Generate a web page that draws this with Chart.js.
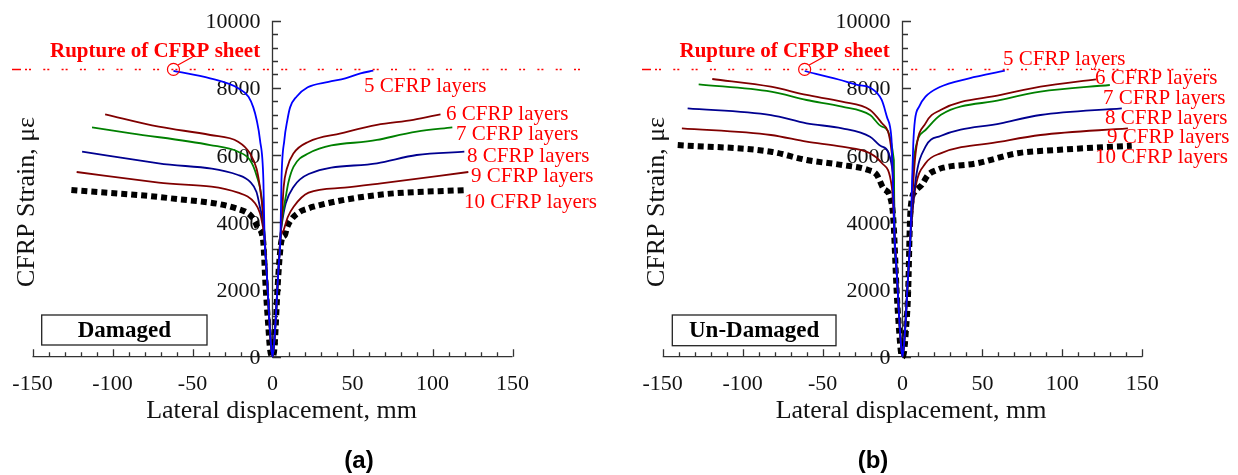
<!DOCTYPE html>
<html>
<head>
<meta charset="utf-8">
<script src="https://cdn.jsdelivr.net/npm/chart.js@4.4.1/dist/chart.umd.min.js"></script>
<style>
  html, body { margin: 0; padding: 0; background: #ffffff; }
  #wrap { position: relative; width: 1238px; height: 475px; overflow: hidden; }
  .panel { position: absolute; top: 0; width: 619px; height: 475px; }
</style>
</head>
<body>
<div id="wrap">
  <div class="panel" style="left:0"><canvas id="chartA" width="619" height="475"></canvas></div>
  <div class="panel" style="left:619px"><canvas id="chartB" width="619" height="475"></canvas></div>
</div>
<script>
// ---- axis ticks ----
const xTicks = [-150, -100, -50, 0, 50, 100, 150];
const yTicks = [0, 2000, 4000, 6000, 8000, 10000];
const xMinorStep = 10;
const yMinorStep = 400;

// ---- series names and rupture strain ----
const layerNames = ['5 CFRP layers', '6 CFRP layers', '7 CFRP layers', '8 CFRP layers', '9 CFRP layers', '10 CFRP layers'];
const ruptureStrain = 8550;

// ---- Damaged columns: [lateral displacement (mm), CFRP strain (microstrain)] ----
const dmg5 = [[-61.9, 8510], [-39, 8285], [-21.4, 7990], [-15, 7738], [-12, 7420], [-9.9, 7045], [-7.8, 6448], [-5.7, 5258], [-5, 3600], [-4, 2800], [-3, 2000], [-2, 1100], [-1, 400], [0, 0], [1, 400], [2, 1100], [3, 2000], [4, 2800], [5, 3600], [5.6, 5258], [7.4, 6448], [9.3, 7045], [11, 7420], [15, 7738], [22, 8018], [35, 8180], [45.5, 8285], [55, 8435], [63, 8512]];
const dmg6 = [[-104.6, 7214], [-71.1, 6845], [-38.9, 6598], [-21.5, 6399], [-14.1, 6053], [-10, 5600], [-7.9, 5060], [-6, 4300], [-5, 3600], [-4, 2800], [-3, 2000], [-2, 1100], [-1, 400], [0, 0], [1, 400], [2, 1100], [3, 2000], [4, 2800], [5, 3600], [6, 4300], [7, 5060], [9, 5600], [13.2, 6053], [22.6, 6399], [42.7, 6647], [65.3, 6900], [88, 7050], [105, 7214]];
const dmg7 = [[-112.8, 6826], [-88.4, 6647], [-38.9, 6300], [-21.5, 6101], [-14.1, 5853], [-10, 5400], [-6.6, 4663], [-5.5, 4000], [-5, 3600], [-4, 2800], [-3, 2000], [-2, 1100], [-1, 400], [0, 0], [1, 400], [2, 1100], [3, 2000], [4, 2800], [5, 3600], [6, 4100], [8.3, 4762], [10, 5200], [13.2, 5655], [22.6, 6053], [65.3, 6450], [90.1, 6696], [112.4, 6826]];
const dmg8 = [[-119, 6101], [-71.1, 5756], [-21.5, 5408], [-14.1, 5208], [-10, 4900], [-7.9, 4464], [-5.5, 3900], [-5, 3600], [-4, 2800], [-3, 2000], [-2, 1100], [-1, 400], [0, 0], [1, 400], [2, 1100], [3, 2000], [4, 2800], [5, 3600], [6, 4000], [8.3, 4565], [13.2, 5060], [22.6, 5437], [65.3, 5756], [90.1, 6003], [119.9, 6101]];
const dmg9 = [[-122.4, 5497], [-71.1, 5179], [-21.5, 4881], [-10.9, 4565], [-7.8, 4268], [-6.4, 3970], [-5.1, 3571], [-4, 2800], [-3, 2000], [-2, 1100], [-1, 400], [0, 0], [1, 400], [2, 1100], [3, 2000], [4, 2800], [5, 3500], [7, 3771], [9.5, 4150], [13.2, 4464], [22.6, 4881], [45, 5030], [67.8, 5160], [122.4, 5497]];
const dmg10 = [[-125.7, 4961], [-63.7, 4714], [-21.4, 4396], [-14, 4217], [-10.9, 4018], [-9.3, 3851], [-5.9, 3473], [-4.3, 2083], [-2.6, 893], [-1.6, 250], [0, 0], [1.2, 250], [2, 893], [3.2, 2083], [5.7, 3473], [7.8, 3622], [8.9, 3821], [12, 4098], [17.2, 4316], [21.4, 4396], [25.5, 4464], [65.3, 4812], [121, 4961]];

// ---- Un-Damaged columns ----
const und5 = [[-61.2, 8503], [-40, 8250], [-27.7, 8086], [-20, 8000], [-13, 7640], [-9.5, 7100], [-7.8, 6845], [-6.75, 6351], [-6, 5200], [-5, 3600], [-4, 2800], [-3, 2000], [-2, 1100], [-1, 400], [0, 0], [1, 400], [2, 1100], [3, 2000], [4, 2800], [5, 3600], [6, 5200], [6.75, 6351], [7.8, 7045], [10.5, 7450], [14.4, 7738], [23, 8018], [41.7, 8285], [64, 8512]];
const und6 = [[-119, 8265], [-82.3, 8036], [-60, 7789], [-37.8, 7590], [-20.3, 7342], [-12.8, 6946], [-6.7, 6053], [-5.5, 4500], [-5, 3600], [-4, 2800], [-3, 2000], [-2, 1100], [-1, 400], [0, 0], [1, 400], [2, 1100], [3, 2000], [4, 2800], [5, 3600], [6, 4600], [8.2, 6053], [14.4, 6946], [23.8, 7342], [61.5, 7789], [86.3, 8036], [121, 8255]];
const und7 = [[-127.5, 8106], [-82.3, 7887], [-60, 7640], [-37.8, 7441], [-20.3, 7193], [-12.8, 6845], [-5.4, 5854], [-5, 3600], [-4, 2800], [-3, 2000], [-2, 1100], [-1, 400], [0, 0], [1, 400], [2, 1100], [3, 2000], [4, 2800], [5, 3600], [7, 5854], [14.4, 6747], [23.8, 7193], [61.5, 7640], [86.3, 7887], [129.7, 8086]];
const und8 = [[-134.4, 7393], [-82.3, 7193], [-60, 6946], [-37.8, 6797], [-20.3, 6548], [-12.8, 6250], [-5.4, 5258], [-5, 3600], [-4, 2800], [-3, 2000], [-2, 1100], [-1, 400], [0, 0], [1, 400], [2, 1100], [3, 2000], [4, 2800], [5, 3600], [8.2, 5258], [14.4, 6250], [23.8, 6568], [61.5, 6946], [86.3, 7193], [137.2, 7393]];
const und9 = [[-138, 6797], [-82.3, 6598], [-60, 6399], [-37.8, 6250], [-20.3, 6053], [-12.8, 5756], [-6.7, 5060], [-5.5, 4200], [-5, 3600], [-4, 2800], [-3, 2000], [-2, 1100], [-1, 400], [0, 0], [1, 400], [2, 1100], [3, 2000], [4, 2800], [5, 3600], [6, 4200], [8.2, 5060], [14.4, 5756], [23.8, 6053], [61.5, 6399], [86.3, 6598], [141, 6797]];
const und10 = [[-140.6, 6300], [-82.3, 6101], [-60, 5854], [-37.8, 5705], [-21.4, 5556], [-16, 5408], [-12, 5012], [-7.8, 4762], [-5.7, 4068], [-3.6, 1887], [-2, 700], [-1, 150], [0, 0], [1, 150], [2, 700], [3.5, 1887], [4.7, 4068], [5.7, 4663], [7.8, 4911], [12, 5110], [16, 5408], [21.4, 5556], [25.5, 5625], [46.6, 5756], [71.4, 6053], [96.3, 6152], [143.4, 6280]];

// ---- styling ----
const lineColors = ['#0000ff', '#800000', '#008000', '#000090', '#800000', '#000000'];
const AXIS_COLOR = '#333333';
const TEXT_COLOR = '#111111';
const RED = '#ff0000';
const SERIF = '"Liberation Serif", "Times New Roman", serif';
const SANS = '"Liberation Sans", Arial, sans-serif';

// Per-panel layout (pixels within each 619 x 475 panel canvas)
const panelA = {
  padding: { left: 32.5, right: 106.5, top: 20.7, bottom: 118.3 },
  tag: 'Damaged', box: { x: 41.7, y: 315, w: 165.3, h: 30 },
  caption: '(a)', captionX: 359,
  ruptureText: { x: 50, y: 57 }, ruptureLine: { from: 12, to: 583 },
  labels: [[364, 91.5], [446, 120], [456, 140], [467, 161.5], [471, 181.5], [464, 208]],
  xTitleX: 281.5, yTitleX: 33.5
};
const panelB = {
  padding: { left: 43.7, right: 95.7, top: 20.7, bottom: 118.3 },
  tag: 'Un-Damaged', box: { x: 53.3, y: 315, w: 163.7, h: 30.7 },
  caption: '(b)', captionX: 254,
  ruptureText: { x: 60.5, y: 57 }, ruptureLine: { from: 23, to: 596 },
  labels: [[384, 65], [476, 83.5], [484, 104], [486, 124], [488, 143], [476, 163]],
  xTitleX: 292, yTitleX: 44.5
};

function drawAxes(chart) {
  const ctx = chart.ctx;
  const xs = chart.scales.x, ys = chart.scales.y;
  const x0 = xs.getPixelForValue(0);
  const y0 = ys.getPixelForValue(0);
  ctx.save();
  ctx.strokeStyle = AXIS_COLOR;
  ctx.lineWidth = 1.3;
  ctx.beginPath();
  // horizontal axis with upward ticks
  ctx.moveTo(xs.getPixelForValue(xs.min), y0);
  ctx.lineTo(xs.getPixelForValue(xs.max), y0);
  for (let v = xs.min; v <= xs.max + 1e-6; v += xMinorStep) {
    const px = Math.round(xs.getPixelForValue(v)) + 0.5;
    const len = xTicks.includes(v) ? 7.5 : 4.5;
    ctx.moveTo(px, y0);
    ctx.lineTo(px, y0 - len);
  }
  // vertical axis through x = 0 with ticks to the right
  ctx.moveTo(x0, ys.getPixelForValue(ys.min));
  ctx.lineTo(x0, ys.getPixelForValue(ys.max));
  for (let v = ys.min; v <= ys.max + 1e-6; v += yMinorStep) {
    const py = Math.round(ys.getPixelForValue(v)) + 0.5;
    const len = yTicks.includes(v) ? 8.5 : 5.5;
    ctx.moveTo(x0, py);
    ctx.lineTo(x0 + len, py);
  }
  ctx.stroke();

  ctx.fillStyle = TEXT_COLOR;
  ctx.font = '22px ' + SERIF;
  ctx.textBaseline = 'alphabetic';
  ctx.textAlign = 'right';
  yTicks.forEach(v => ctx.fillText(String(v), x0 - 12, ys.getPixelForValue(v) + 7.5));
  ctx.textAlign = 'center';
  xTicks.forEach(v => ctx.fillText(String(v), xs.getPixelForValue(v), y0 + 33.5));
  ctx.restore();
}

function drawNotes(chart, panel, firstSeries) {
  const ctx = chart.ctx;
  const xs = chart.scales.x, ys = chart.scales.y;
  ctx.save();

  // axis titles
  ctx.fillStyle = TEXT_COLOR;
  ctx.font = '26px ' + SERIF;
  ctx.textAlign = 'center';
  ctx.textBaseline = 'alphabetic';
  ctx.fillText('Lateral displacement, mm', panel.xTitleX, 418);
  ctx.save();
  ctx.translate(panel.yTitleX, 202);
  ctx.rotate(-Math.PI / 2);
  ctx.fillText('CFRP Strain, \u03bc\u03b5', 0, 0);
  ctx.restore();

  // rupture threshold line
  const yr = Math.round(ys.getPixelForValue(ruptureStrain)) + 0.5;
  ctx.strokeStyle = RED;
  ctx.lineWidth = 1.5;
  ctx.beginPath();
  ctx.moveTo(panel.ruptureLine.from, yr);
  ctx.lineTo(panel.ruptureLine.from + 9, yr);
  ctx.stroke();
  ctx.setLineDash([2, 2, 2, 12.3]);
  ctx.beginPath();
  ctx.moveTo(panel.ruptureLine.from + 13, yr);
  ctx.lineTo(panel.ruptureLine.to, yr);
  ctx.stroke();
  ctx.setLineDash([]);

  // rupture marker at the end of the 5-layer curve
  const cx = xs.getPixelForValue(firstSeries[0][0]);
  const cy = ys.getPixelForValue(ruptureStrain);
  ctx.lineWidth = 1.2;
  ctx.beginPath();
  ctx.arc(cx, cy, 6, 0, Math.PI * 2);
  ctx.stroke();
  ctx.beginPath();
  ctx.moveTo(cx + 4.5, cy - 4.5);
  ctx.lineTo(cx + 19, cy - 12.5);
  ctx.stroke();

  ctx.fillStyle = RED;
  ctx.textAlign = 'left';
  ctx.font = 'bold 21px ' + SERIF;
  ctx.fillText('Rupture of CFRP sheet', panel.ruptureText.x, panel.ruptureText.y);

  // series labels
  ctx.font = '21px ' + SERIF;
  panel.labels.forEach((p, i) => ctx.fillText(layerNames[i], p[0], p[1]));

  // condition tag
  const b = panel.box;
  ctx.fillStyle = '#ffffff';
  ctx.fillRect(b.x, b.y, b.w, b.h);
  ctx.strokeStyle = '#222222';
  ctx.lineWidth = 1.3;
  ctx.strokeRect(b.x, b.y, b.w, b.h);
  ctx.fillStyle = '#000000';
  ctx.textAlign = 'center';
  ctx.font = 'bold 23px ' + SERIF;
  ctx.fillText(panel.tag, b.x + b.w / 2, 337);

  // panel caption
  ctx.font = 'bold 24px ' + SANS;
  ctx.fillText(panel.caption, panel.captionX, 468);
  ctx.restore();
}

function makeChart(canvasId, series, panel) {
  const datasets = series.map((s, i) => ({
    label: layerNames[i],
    data: s.map(([x, y]) => ({ x, y })),
    showLine: true,
    pointRadius: 0,
    borderColor: lineColors[i],
    borderWidth: i === 5 ? 6 : 1.8,
    borderDash: i === 5 ? [6, 4] : [],
    borderCapStyle: 'butt',
    cubicInterpolationMode: 'monotone',
    clip: false
  }));
  return new Chart(document.getElementById(canvasId), {
    type: 'scatter',
    data: { datasets },
    options: {
      responsive: false,
      animation: false,
      devicePixelRatio: 1,
      events: [],
      layout: { padding: panel.padding },
      scales: {
        x: { type: 'linear', min: xTicks[0], max: xTicks[xTicks.length - 1], display: false },
        y: { type: 'linear', min: yTicks[0], max: yTicks[yTicks.length - 1], display: false }
      },
      plugins: { legend: { display: false }, tooltip: { enabled: false } }
    },
    plugins: [{
      id: 'panelDecor',
      beforeDatasetsDraw(chart) { drawAxes(chart); },
      afterDatasetsDraw(chart) { drawNotes(chart, panel, series[0]); }
    }]
  });
}

makeChart('chartA', [dmg5, dmg6, dmg7, dmg8, dmg9, dmg10], panelA);
makeChart('chartB', [und5, und6, und7, und8, und9, und10], panelB);
</script>
</body>
</html>
